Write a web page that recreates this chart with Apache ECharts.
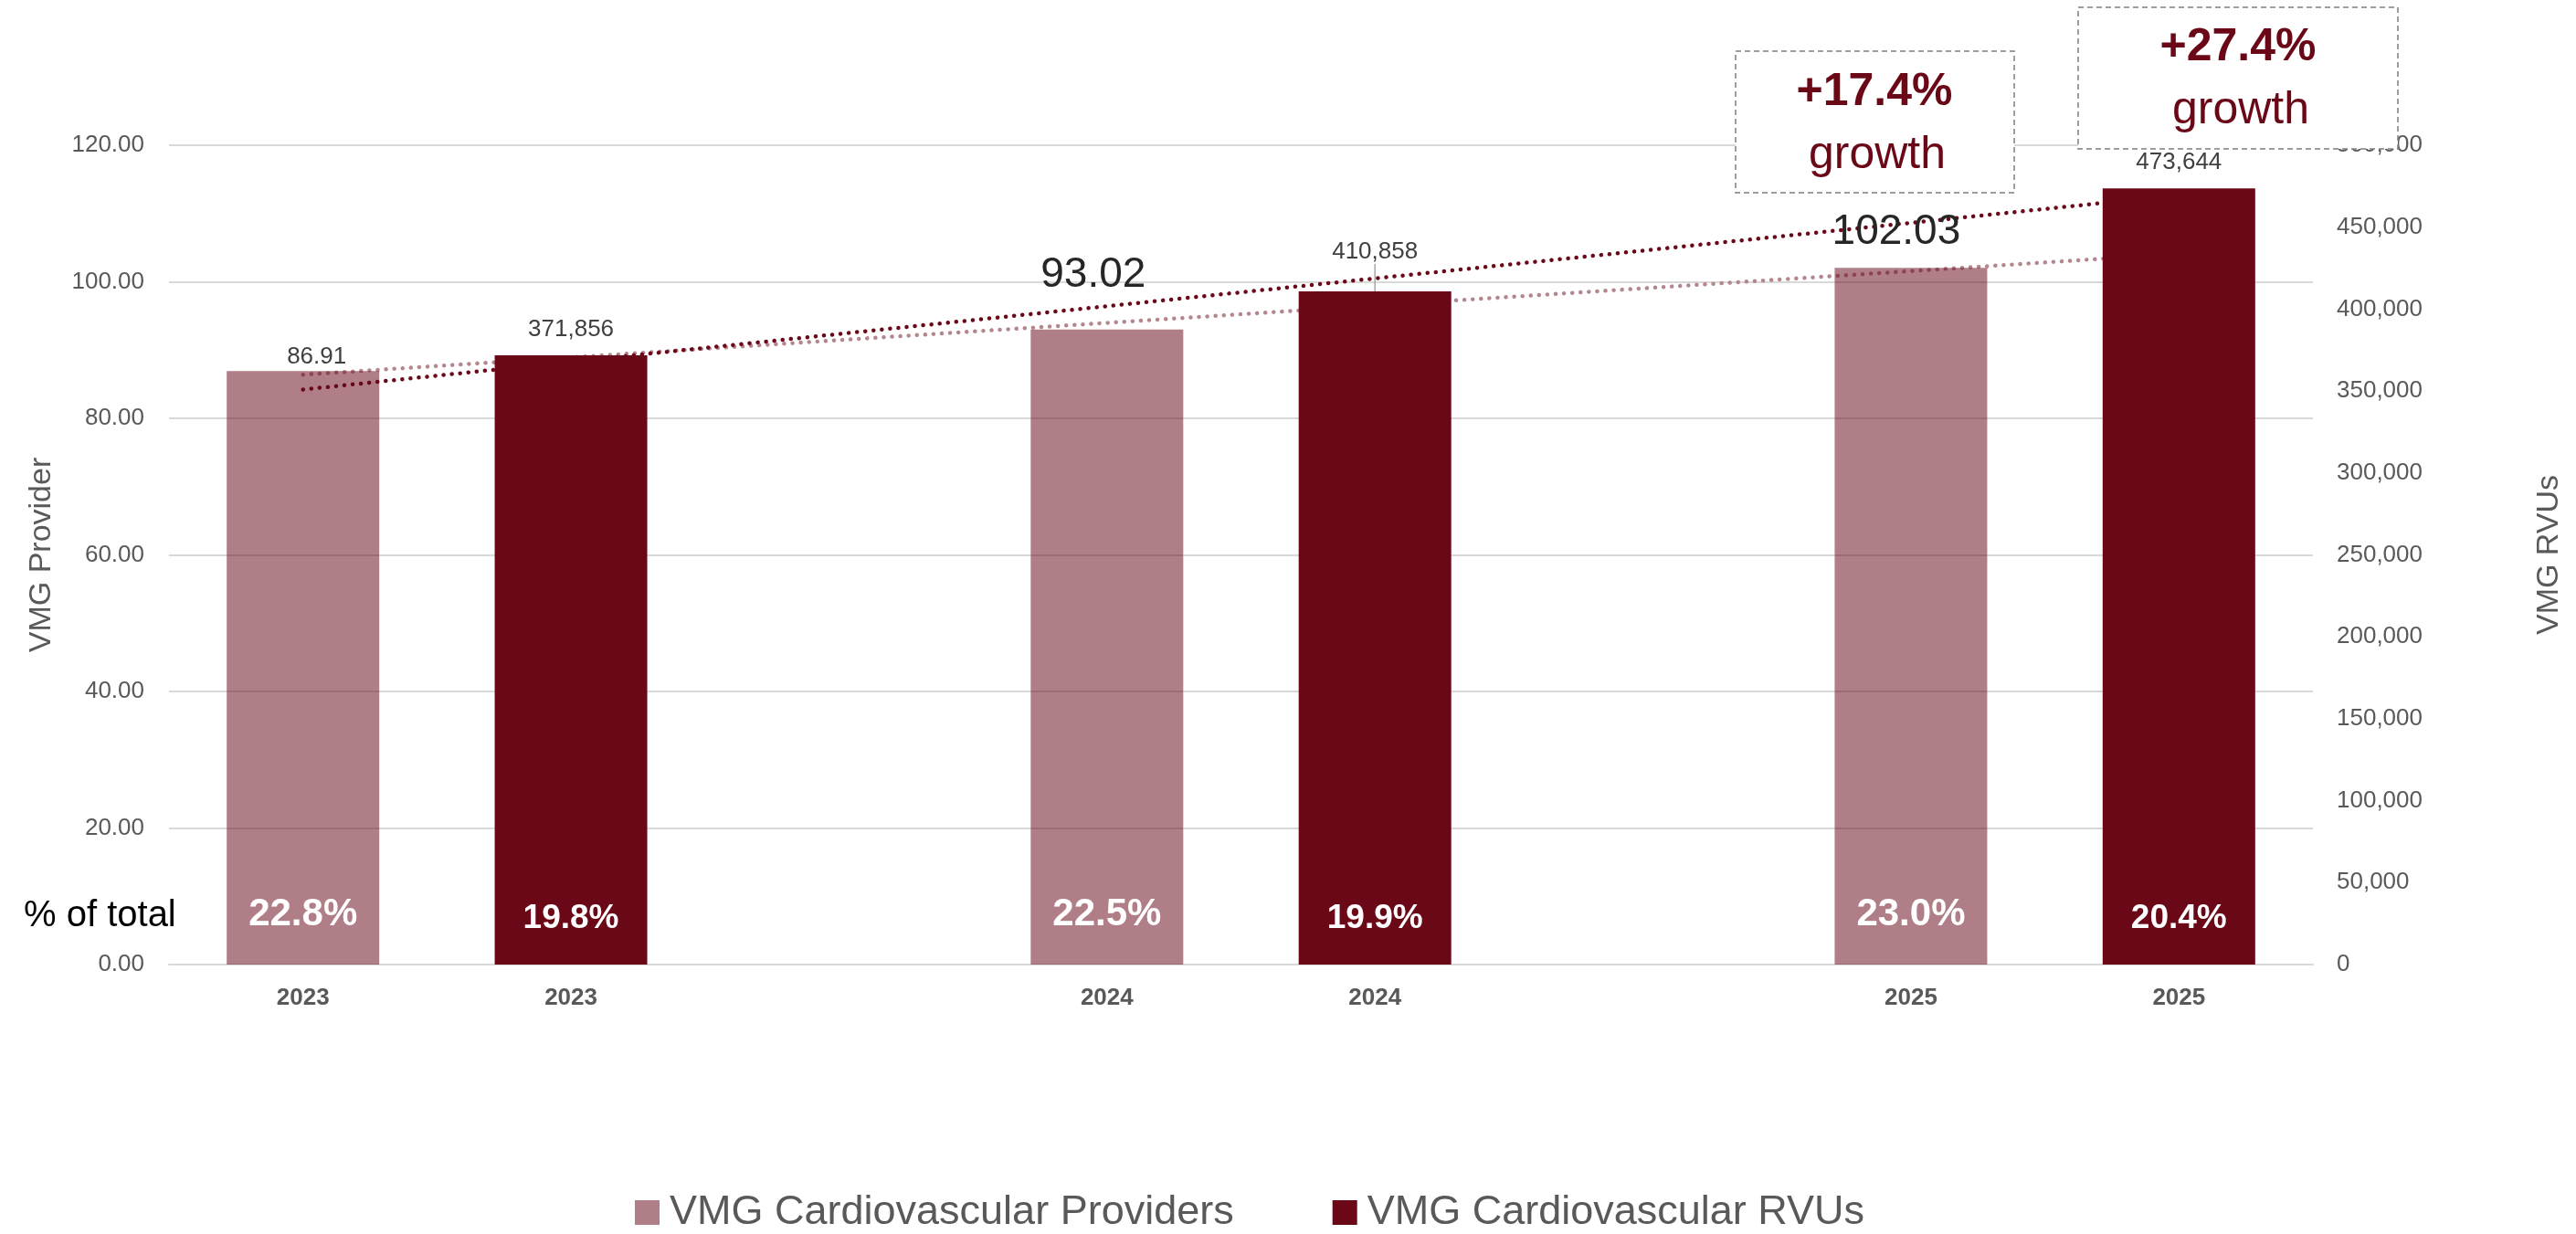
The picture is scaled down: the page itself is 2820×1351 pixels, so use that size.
<!DOCTYPE html>
<html>
<head>
<meta charset="utf-8">
<script src="https://cdn.jsdelivr.net/npm/echarts@6/dist/echarts.min.js"></script>
<style>
  html, body { margin: 0; padding: 0; background: #fff; }
  #chart { width: 2820px; height: 1351px; }
</style>
</head>
<body>
<div id="chart"></div>
<script>
// slots on the category axis (empty slots keep the year groups apart)
var categories = ['2023', '2023', '', '2024', '2024', '', '2025', '2025']
var providerSlots = [0, 3, 6]
var rvuSlots = [1, 4, 7]

var providerValues = [86.91, 93.02, 102.03]
var rvuValues = [371856, 410858, 473644]
var providerShare = ['22.8%', '22.5%', '23.0%']
var rvuShare = ['19.8%', '19.9%', '20.4%']

// trendline ends (first slot, last slot)
var providerTrend = [86.4, 104.1]
var rvuTrend = [350900, 469600]

var growthLabels = ['+17.4%', '+27.4%']

var leftTicks = { min: 0, max: 120, interval: 20 }
var rightTicks = { min: 0, max: 500000, interval: 50000 }

var dark = '#6a0818'
var light = 'rgba(104,8,24,0.52)'
var font = 'Liberation Sans, Arial, sans-serif'

function slotData(slots, values) {
  var out = categories.map(function () { return '-' })
  slots.forEach(function (s, i) { out[s] = values[i] })
  return out
}

var chart = echarts.init(document.getElementById('chart'))

// per-item label tweaks, like the hand-moved labels in the original
var providerLabelStyle = [
  { offset: [15, 0], distance: 3, fontSize: 26, color: '#404040' },
  { offset: [-15, 0], distance: 36, fontSize: 46, color: '#262626' },
  { offset: [-16, 0], distance: 16, fontSize: 46, color: '#262626' }
]
var rvuLabelStyle = [
  { distance: 15 },
  { distance: 0 },
  { distance: 15 }
]

var providerBars = slotData(providerSlots, providerValues).map(function (v, i) {
  var k = providerSlots.indexOf(i)
  if (k < 0) return v
  return { value: v, label: providerLabelStyle[k] }
})
var rvuBars = slotData(rvuSlots, rvuValues).map(function (v, i) {
  var k = rvuSlots.indexOf(i)
  if (k < 0) return v
  // only the middle label was dragged up and got a leader line
  return { value: v, label: rvuLabelStyle[k], labelLine: { show: k === 1 } }
})

function shareLabel(list, slots) {
  return function (p) { return list[slots.indexOf(p.dataIndex)] }
}

var boxes = []
;[
  { x: 1900, y: 56, w: 305, h: 155, tx: 2052, ty1: 101, ty2: 170 },
  { x: 2275, y: 8, w: 350, h: 155, tx: 2450, ty1: 52, ty2: 121 }
].forEach(function (b, i) {
  boxes.push({
    type: 'rect', z: 100,
    shape: { x: b.x, y: b.y, width: b.w, height: b.h },
    style: { fill: '#fff', stroke: '#7f7f7f', lineWidth: 1.5, lineDash: [6, 4] }
  })
  boxes.push({
    type: 'text', z: 101, x: b.tx, y: b.ty1,
    style: { text: growthLabels[i], font: 'bold 50px ' + font, fill: dark, align: 'center', verticalAlign: 'middle' }
  })
  boxes.push({
    type: 'text', z: 101, x: b.tx + 3, y: b.ty2,
    style: { text: 'growth', font: '50px ' + font, fill: dark, align: 'center', verticalAlign: 'middle' }
  })
})
boxes.push({
  type: 'text', z: 101, x: 26, y: 1003,
  style: { text: '% of total', font: '40px ' + font, fill: '#000', align: 'left', verticalAlign: 'middle' }
})

chart.setOption({
  animation: false,
  textStyle: { fontFamily: font },
  grid: { left: 185, right: 288, top: 159, bottom: 295 },
  legend: {
    data: ['VMG Cardiovascular Providers', 'VMG Cardiovascular RVUs'],
    left: 690, top: 1300,
    icon: 'rect', itemWidth: 27, itemHeight: 27, itemGap: 108,
    textStyle: { fontSize: 45, color: '#595959', padding: [0, 0, 0, 6] }
  },
  xAxis: {
    type: 'category',
    data: categories,
    axisTick: { show: false },
    axisLine: { lineStyle: { color: '#d9d9d9', width: 2 } },
    axisLabel: { interval: 0, margin: 24, fontSize: 26, fontWeight: 'bold', color: '#595959' }
  },
  yAxis: [{
    type: 'value',
    min: leftTicks.min, max: leftTicks.max, interval: leftTicks.interval,
    name: 'VMG Provider', nameLocation: 'middle', nameGap: 122,
    nameTextStyle: { fontSize: 34, color: '#595959' },
    axisLabel: { fontSize: 26, color: '#595959', margin: 27, formatter: function (v) { return v.toFixed(2) } },
    splitLine: { lineStyle: { color: '#d9d9d9', width: 2 } }
  }, {
    type: 'value',
    min: rightTicks.min, max: rightTicks.max, interval: rightTicks.interval,
    name: 'VMG RVUs', nameLocation: 'middle', nameGap: 242,
    nameTextStyle: { fontSize: 34, color: '#595959' },
    axisLabel: { fontSize: 26, color: '#595959', margin: 26, formatter: function (v) { return v.toLocaleString('en-US') } },
    splitLine: { show: false }
  }],
  series: [{
    name: 'VMG Cardiovascular Providers',
    type: 'bar', yAxisIndex: 0, z: 3,
    barWidth: 167, barGap: '-100%',
    itemStyle: { color: light },
    label: {
      show: true, position: 'top', fontSize: 26, color: '#404040',
      formatter: function (p) { return Number(p.value).toFixed(2) }
    },
    data: providerBars
  }, {
    name: 'VMG Cardiovascular RVUs',
    type: 'bar', yAxisIndex: 1, z: 3,
    barWidth: 167, barGap: '-100%',
    itemStyle: { color: dark },
    label: {
      show: true, position: 'top', fontSize: 26, color: '#404040',
      formatter: function (p) { return Number(p.value).toLocaleString('en-US') }
    },
    labelLine: { show: false, lineStyle: { color: '#a6a6a6', width: 1.5 } },
    labelLayout: function (p) {
      if (p.dataIndex === 4) return { dy: -30 }
    },
    data: rvuBars
  }, {
    name: 'providerShare',
    type: 'bar', yAxisIndex: 0, z: 4, silent: true,
    barWidth: 167, barGap: '-100%',
    itemStyle: { color: 'rgba(0,0,0,0)' },
    label: {
      show: true, position: 'insideBottom', distance: 34,
      fontSize: 42, fontWeight: 'bold', color: '#fff',
      formatter: shareLabel(providerShare, providerSlots)
    },
    data: slotData(providerSlots, providerValues)
  }, {
    name: 'rvuShare',
    type: 'bar', yAxisIndex: 1, z: 4, silent: true,
    barWidth: 167, barGap: '-100%',
    itemStyle: { color: 'rgba(0,0,0,0)' },
    label: {
      show: true, position: 'insideBottom', distance: 32,
      fontSize: 37, fontWeight: 'bold', color: '#fff',
      formatter: shareLabel(rvuShare, rvuSlots)
    },
    data: slotData(rvuSlots, rvuValues)
  }, {
    name: 'providerTrend',
    type: 'line', yAxisIndex: 0, z: 1, symbol: 'none', silent: true,
    lineStyle: { color: '#b4868d', width: 4.5, type: [0.1, 9], cap: 'round' },
    data: [[0, providerTrend[0]], [categories.length - 1, providerTrend[1]]]
  }, {
    name: 'rvuTrend',
    type: 'line', yAxisIndex: 1, z: 1, symbol: 'none', silent: true,
    lineStyle: { color: dark, width: 4.5, type: [0.1, 9], cap: 'round' },
    data: [[0, rvuTrend[0]], [categories.length - 1, rvuTrend[1]]]
  }],
  graphic: boxes
})
</script>
</body>
</html>
